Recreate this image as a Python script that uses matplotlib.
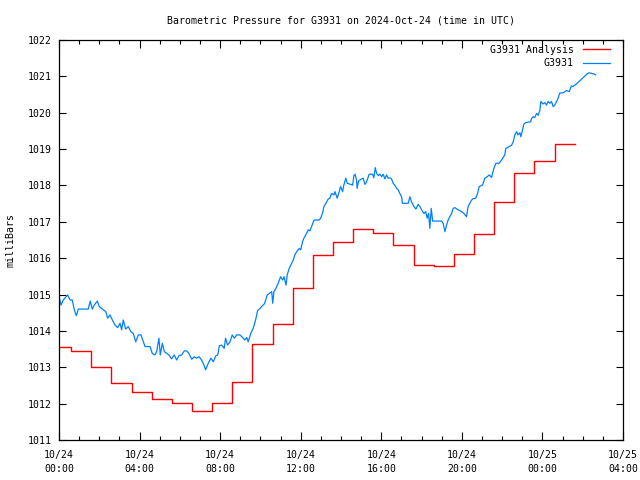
import matplotlib
matplotlib.use("Agg")
import matplotlib.pyplot as plt
from matplotlib.ticker import FixedLocator, MultipleLocator

# Analysis (hourly step) series: step start times in hours since 10/24 00:00
analysis_hours = [0.0, 0.6, 1.6, 2.6, 3.6, 4.6, 5.6, 6.6, 7.6, 8.6, 9.6, 10.6, 11.6,
                  12.6, 13.6, 14.6, 15.6, 16.6, 17.6, 18.6, 19.6, 20.6, 21.6, 22.6,
                  23.6, 24.6, 25.6]
analysis_vals = [1013.55, 1013.45, 1013.00, 1012.56, 1012.32, 1012.13, 1012.01, 1011.79,
                 1012.01, 1012.59, 1013.64, 1014.19, 1015.17, 1016.08, 1016.44, 1016.79,
                 1016.68, 1016.36, 1015.80, 1015.78, 1016.11, 1016.66, 1017.55, 1018.33,
                 1018.66, 1019.13, 1019.13]

# Station observations (hours since 10/24 00:00, mb)
obs_hours = [0.00, 0.10, 0.21, 0.43, 0.55, 0.66, 0.76, 0.86, 0.96, 1.45, 1.55, 1.65, 1.75,
             1.90, 2.00, 2.20, 2.32, 2.42, 2.53, 2.65, 2.78, 2.91, 3.03, 3.11, 3.19, 3.31,
             3.44, 3.57, 3.69, 3.81, 3.94, 4.07, 4.27, 4.52, 4.63, 4.76, 4.85, 4.96, 5.03,
             5.13, 5.23, 5.35, 5.46, 5.59, 5.72, 5.84, 5.96, 6.09, 6.22, 6.34, 6.45, 6.59,
             6.71, 6.83, 6.95, 7.08, 7.21, 7.28, 7.41, 7.54, 7.66, 7.78, 7.88, 7.96, 8.07,
             8.20, 8.27, 8.37, 8.49, 8.60, 8.70, 8.82, 8.98, 9.15, 9.23, 9.32, 9.39, 9.53,
             9.64, 9.76, 9.86, 9.98, 10.09, 10.19, 10.22, 10.34, 10.56, 10.61, 10.67, 10.77,
             10.88, 11.00, 11.10, 11.17, 11.27, 11.33, 11.43, 11.55, 11.63, 11.71, 11.80,
             11.93, 12.00, 12.09, 12.16, 12.29, 12.37, 12.46, 12.54, 12.66, 12.92, 12.99,
             13.09, 13.15, 13.25, 13.36, 13.45, 13.53, 13.65, 13.70, 13.81, 13.91, 13.98,
             14.08, 14.14, 14.24, 14.31, 14.58, 14.64, 14.70, 14.77, 14.80, 14.87, 15.02,
             15.10, 15.19, 15.27, 15.40, 15.57, 15.63, 15.70, 15.77, 15.85, 15.93, 16.02,
             16.09, 16.18, 16.26, 16.34, 16.43, 16.51, 16.59, 16.67, 16.76, 16.84, 16.92,
             17.01, 17.05, 17.34, 17.42, 17.50, 17.62, 17.72, 17.83, 17.92, 18.00, 18.11,
             18.21, 18.28, 18.35, 18.41, 18.48, 18.55, 18.99, 19.07, 19.16, 19.24, 19.32,
             19.40, 19.49, 19.57, 19.65, 19.82, 19.99, 20.10, 20.23, 20.31, 20.43, 20.53,
             20.69, 20.78, 20.86, 21.03, 21.14, 21.26, 21.36, 21.47, 21.59, 21.69, 21.85,
             21.97, 22.05, 22.13, 22.18, 22.30, 22.47, 22.55, 22.63, 22.72, 22.79, 22.88,
             22.93, 23.01, 23.08, 23.18, 23.41, 23.46, 23.54, 23.62, 23.71, 23.79, 23.87,
             23.92, 24.03, 24.12, 24.20, 24.28, 24.37, 24.45, 24.53, 24.62, 24.70, 24.78,
             24.86, 25.03, 25.20, 25.33, 25.39, 25.44, 25.52, 25.61, 25.72, 25.86, 25.99,
             26.10, 26.22, 26.32, 26.44, 26.55, 26.64]
obs_vals = [1014.95, 1014.71, 1014.85, 1014.99, 1014.85, 1014.85, 1014.58, 1014.42, 1014.60,
            1014.60, 1014.82, 1014.60, 1014.71, 1014.82, 1014.67, 1014.58, 1014.53, 1014.35,
            1014.44, 1014.30, 1014.16, 1014.09, 1014.21, 1014.03, 1014.30, 1014.05, 1014.12,
            1013.98, 1013.93, 1013.70, 1013.89, 1013.89, 1013.57, 1013.57, 1013.38, 1013.34,
            1013.43, 1013.80, 1013.34, 1013.66, 1013.43, 1013.38, 1013.34, 1013.23, 1013.34,
            1013.20, 1013.32, 1013.34, 1013.45, 1013.45, 1013.38, 1013.22, 1013.29, 1013.25,
            1013.29, 1013.20, 1013.04, 1012.93, 1013.11, 1013.25, 1013.15, 1013.31, 1013.34,
            1013.59, 1013.61, 1013.52, 1013.80, 1013.61, 1013.70, 1013.89, 1013.80, 1013.89,
            1013.89, 1013.80, 1013.75, 1013.82, 1013.70, 1013.95, 1014.07, 1014.30, 1014.56,
            1014.62, 1014.69, 1014.74, 1014.78, 1014.99, 1015.08, 1014.76, 1015.08, 1015.17,
            1015.31, 1015.49, 1015.40, 1015.49, 1015.26, 1015.54, 1015.72, 1015.86, 1015.95,
            1016.09, 1016.18, 1016.27, 1016.23, 1016.45, 1016.55, 1016.68, 1016.78, 1016.75,
            1016.87, 1017.05, 1017.05, 1017.10, 1017.25, 1017.42, 1017.51, 1017.62, 1017.65,
            1017.78, 1017.74, 1017.83, 1017.65, 1017.83, 1017.97, 1017.83, 1018.01, 1018.20,
            1018.06, 1018.01, 1018.27, 1018.31, 1018.15, 1017.92, 1018.12, 1018.18, 1018.20,
            1018.03, 1018.10, 1018.31, 1018.31, 1018.21, 1018.49, 1018.33, 1018.27, 1018.31,
            1018.24, 1018.31, 1018.18, 1018.29, 1018.20, 1018.21, 1018.18, 1018.06, 1018.01,
            1017.92, 1017.88, 1017.78, 1017.69, 1017.51, 1017.51, 1017.69, 1017.55, 1017.42,
            1017.35, 1017.48, 1017.42, 1017.33, 1017.23, 1017.28, 1017.10, 1017.23, 1016.82,
            1017.37, 1017.02, 1017.02, 1016.96, 1016.73, 1016.91, 1017.05, 1017.14, 1017.23,
            1017.37, 1017.39, 1017.33, 1017.28, 1017.23, 1017.14, 1017.42, 1017.55, 1017.63,
            1017.65, 1017.78, 1017.97, 1018.01, 1018.20, 1018.24, 1018.29, 1018.22, 1018.47,
            1018.61, 1018.61, 1018.70, 1018.77, 1018.84, 1019.02, 1019.05, 1019.11, 1019.20,
            1019.39, 1019.48, 1019.39, 1019.45, 1019.34, 1019.53, 1019.69, 1019.73, 1019.75,
            1019.84, 1019.89, 1019.87, 1019.98, 1019.93, 1020.06, 1020.31, 1020.24, 1020.28,
            1020.21, 1020.31, 1020.26, 1020.31, 1020.17, 1020.21, 1020.31, 1020.40, 1020.54,
            1020.55, 1020.61, 1020.58, 1020.67, 1020.74, 1020.72, 1020.76, 1020.81, 1020.88,
            1020.95, 1021.01, 1021.07, 1021.10, 1021.08, 1021.07, 1021.04]

xtick_hours = [0, 4, 8, 12, 16, 20, 24, 28]
xtick_labels = ["10/24\n00:00", "10/24\n04:00", "10/24\n08:00", "10/24\n12:00",
                "10/24\n16:00", "10/24\n20:00", "10/25\n00:00", "10/25\n04:00"]
ytick_vals = list(range(1011, 1023))

FONT = "DejaVu Sans Mono"
FS = 7.1

fig = plt.figure(figsize=(6.4, 4.8), dpi=100)
ax = fig.add_axes([59/640, 40/480, (623-59)/640, 400/480])

ax.step(analysis_hours, analysis_vals, where="post", color="#ff0000", lw=1.0,
        label="G3931 Analysis")
ax.plot(obs_hours, obs_vals, color="#0080ff", lw=0.9, label="G3931")

ax.set_xlim(0, 28)
ax.set_ylim(1011, 1022)
ax.xaxis.set_major_locator(FixedLocator(xtick_hours))
ax.set_xticklabels(xtick_labels, fontsize=FS, family=FONT, linespacing=1.55)
ax.xaxis.set_minor_locator(MultipleLocator(1))
ax.yaxis.set_major_locator(FixedLocator(ytick_vals))
ax.set_yticklabels([str(v) for v in ytick_vals], fontsize=FS, family=FONT)

ax.tick_params(which="both", direction="in", top=True, right=True, width=0.8, color="black")
ax.tick_params(axis="x", which="major", length=6, pad=7)
ax.tick_params(axis="x", which="minor", length=3)
ax.tick_params(axis="y", which="major", length=5, pad=5)
for s in ax.spines.values():
    s.set_linewidth(0.9)

ax.set_title("Barometric Pressure for G3931 on 2024-Oct-24 (time in UTC)",
             fontsize=FS, family=FONT, pad=12)
ax.set_ylabel("milliBars", fontsize=FS, family=FONT, labelpad=9)

leg = ax.legend(loc="upper right", bbox_to_anchor=(1.0, 1.02), frameon=False,
                markerfirst=False, prop={"family": FONT, "size": FS}, handlelength=2.8,
                handletextpad=0.9, labelspacing=0.35, borderaxespad=0.9)
for t in leg.get_texts():
    t.set_ha("right")
leg._legend_box.align = "right"

fig.savefig("out.png", dpi=100)
